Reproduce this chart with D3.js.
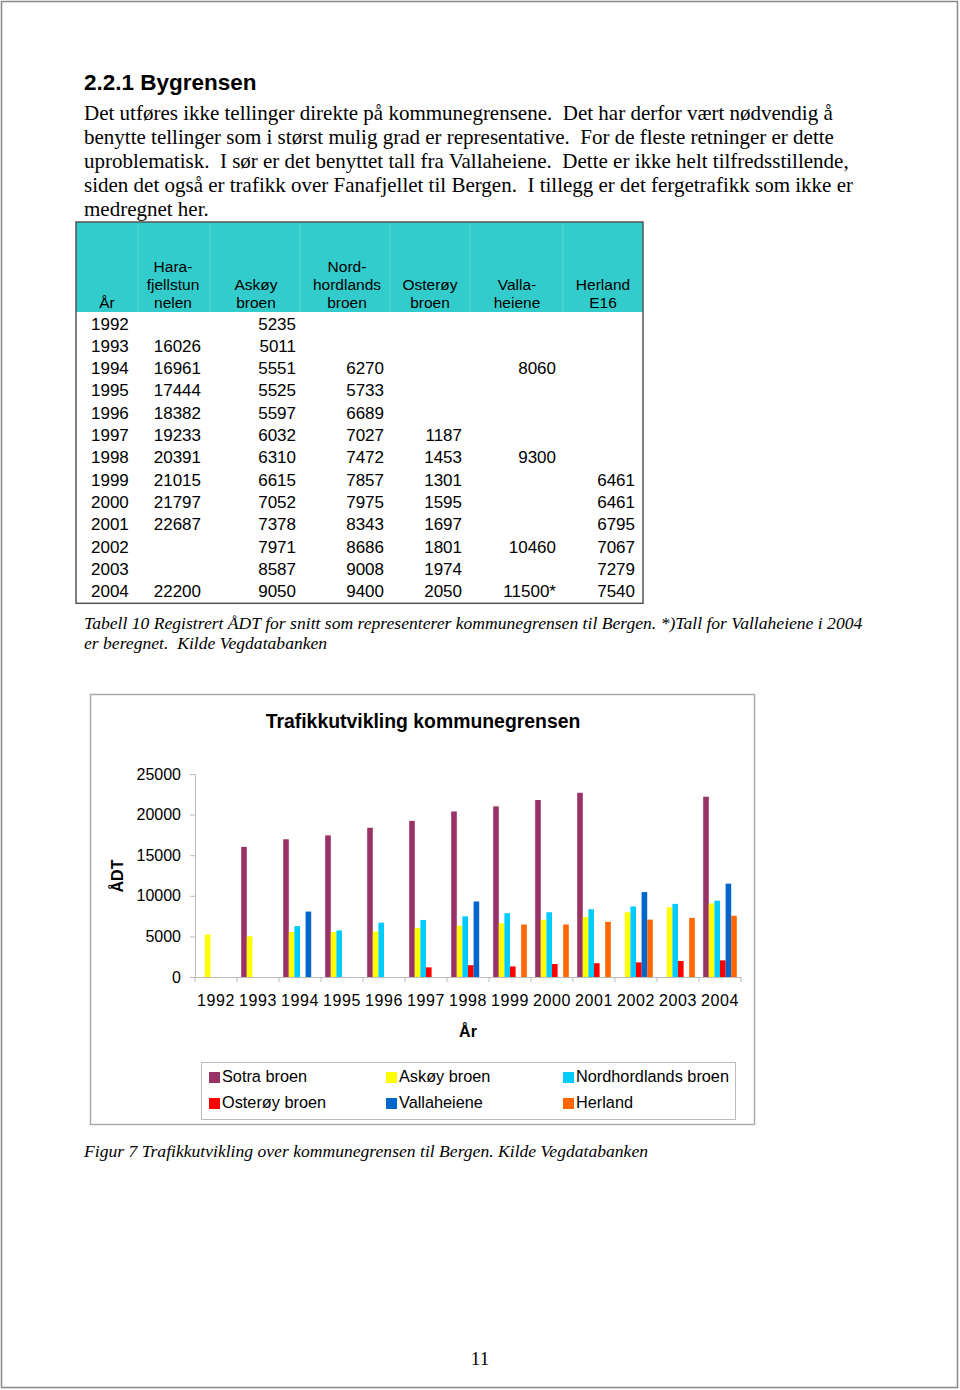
<!DOCTYPE html>
<html><head><meta charset="utf-8">
<script src="https://cdn.jsdelivr.net/npm/d3@7"></script>
<style>body{margin:0;background:#fff}svg{display:block}</style>
</head><body>
<script>
const years = [1992,1993,1994,1995,1996,1997,1998,1999,2000,2001,2002,2003,2004];
const sotra        = [null,16026,16961,17444,18382,19233,20391,21015,21797,22687,null,null,22200];
const askoy        = [5235,5011,5551,5525,5597,6032,6310,6615,7052,7378,7971,8587,9050];
const nordhordland = [null,null,6270,5733,6689,7027,7472,7857,7975,8343,8686,9008,9400];
const osteroy      = [null,null,null,null,null,1187,1453,1301,1595,1697,1801,1974,2050];
const vallaheiene  = [null,null,8060,null,null,null,9300,null,null,null,10460,null,11500];
const herland      = [null,null,null,null,null,null,null,6461,6461,6795,7067,7279,7540];
const seriesNames  = ["Sotra broen","Askøy broen","Nordhordlands broen","Osterøy broen","Vallaheiene","Herland"];
const seriesColors = ["#993366","#FFFF00","#00CCFF","#FF0000","#0066CC","#FF6600"];
const yTicks = [0,5000,10000,15000,20000,25000];
const tableHeaders = [["År"],["Hara-","fjellstun","nelen"],["Askøy","broen"],["Nord-","hordlands","broen"],["Osterøy","broen"],["Valla-","heiene"],["Herland","E16"]];
const paragraph = [
 "Det utføres ikke tellinger direkte på kommunegrensene.  Det har derfor vært nødvendig å",
 "benytte tellinger som i størst mulig grad er representative.  For de fleste retninger er dette",
 "uproblematisk.  I sør er det benyttet tall fra Vallaheiene.  Dette er ikke helt tilfredsstillende,",
 "siden det også er trafikk over Fanafjellet til Bergen.  I tillegg er det fergetrafikk som ikke er",
 "medregnet her."];

const series = [sotra,askoy,nordhordland,osteroy,vallaheiene,herland];

const svg = d3.select("body").append("svg").attr("width",960).attr("height",1390);
svg.append("rect").attr("x",1.5).attr("y",1.5).attr("width",956).attr("height",1386)
  .attr("fill","#fff").attr("stroke","#888").attr("stroke-width",1.5);

const serif = "'Liberation Serif','Times New Roman',serif";
const sans = "'Liberation Sans',Arial,sans-serif";

svg.append("text").attr("x",84).attr("y",90).attr("font-family",sans).attr("font-weight","bold")
  .attr("font-size",22.5).text("2.2.1 Bygrensen");
paragraph.forEach((l,i)=>{
  svg.append("text").attr("x",84).attr("y",120+i*24).attr("font-family",serif).attr("font-size",21)
    .attr("xml:space","preserve").style("white-space","pre").text(l);
});

// ---- Table
const colEdges = [76,138,210,300,390,470,563,643];
const tTop = 222, hBottom = 312, rowH = 22.33;
const tBottom = hBottom + rowH*years.length + 1;
svg.append("rect").attr("x",colEdges[0]).attr("y",tTop).attr("width",colEdges[7]-colEdges[0]).attr("height",hBottom-tTop)
  .attr("fill","#33CCCC");
for (let i=1;i<7;i++){
  svg.append("line").attr("x1",colEdges[i]).attr("x2",colEdges[i]).attr("y1",tTop+2).attr("y2",hBottom)
    .attr("stroke","#5fd8d8").attr("stroke-width",1);
}
svg.append("rect").attr("x",colEdges[0]).attr("y",tTop).attr("width",colEdges[7]-colEdges[0]).attr("height",tBottom-tTop)
  .attr("fill","none").attr("stroke","#555").attr("stroke-width",1.5);
const headerCenters = [107,173,256,347,430,517,603];
tableHeaders.forEach((lines,c)=>{
  lines.forEach((t,k)=>{
    const y = 308 - (lines.length-1-k)*18;
    svg.append("text").attr("x",headerCenters[c]).attr("y",y).attr("text-anchor","middle")
      .attr("font-family",sans).attr("font-size",15.5).text(t);
  });
});
const rightEdges = [null,201,296,384,462,556,635];
years.forEach((yr,r)=>{
  const y = hBottom + rowH*r + 17.5;
  svg.append("text").attr("x",91).attr("y",y).attr("font-family",sans).attr("font-size",17).text(yr);
  series.forEach((s,c)=>{
    if (s[r]==null) return;
    let t = String(s[r]);
    if (c===4 && yr===2004) t += "*";
    svg.append("text").attr("x",rightEdges[c+1]).attr("y",y).attr("text-anchor","end")
      .attr("font-family",sans).attr("font-size",17).text(t);
  });
});
svg.append("text").attr("x",84).attr("y",629).attr("font-family",serif).attr("font-style","italic").attr("font-size",17.6)
  .text("Tabell 10 Registrert ÅDT for snitt som representerer kommunegrensen til Bergen. *)Tall for Vallaheiene i 2004");
svg.append("text").attr("x",84).attr("y",649).attr("font-family",serif).attr("font-style","italic").attr("font-size",17.6)
  .attr("xml:space","preserve").style("white-space","pre").text("er beregnet.  Kilde Vegdatabanken");

// ---- Chart
svg.append("rect").attr("x",90.5).attr("y",694.5).attr("width",664).attr("height",430)
  .attr("fill","#fff").attr("stroke","#aaa").attr("stroke-width",1.5);
svg.append("text").attr("x",423).attr("y",728).attr("text-anchor","middle").attr("font-family",sans)
  .attr("font-weight","bold").attr("font-size",19.4).text("Trafikkutvikling kommunegrensen");

const x0 = d3.scaleBand().domain(years).range([195,741]).paddingInner(0).paddingOuter(0);
const gap = 8.4;
const x1 = d3.scaleBand().domain(d3.range(6)).range([gap/2, x0.bandwidth()-gap/2]).padding(0);
const y = d3.scaleLinear().domain([0,25000]).range([977,774]);

const yAxis = d3.axisLeft(y).tickValues(yTicks).tickSize(5).tickPadding(9).tickFormat(d3.format("d"));
const gy = svg.append("g").attr("transform","translate(195,0)").call(yAxis);
gy.select(".domain").attr("stroke","#bbb");
gy.selectAll(".tick line").attr("stroke","#bbb");
gy.selectAll(".tick text").attr("font-family",sans).attr("font-size",16).attr("fill","#000");

years.forEach((yr,i)=>{
  series.forEach((s,k)=>{
    if (s[i]==null) return;
    svg.append("rect").attr("x",x0(yr)+x1(k)).attr("y",y(s[i])).attr("width",x1.bandwidth())
      .attr("height",y(0)-y(s[i])).attr("fill",seriesColors[k]);
  });
});

const xAxis = d3.axisBottom(x0).tickSize(0).tickPadding(18);
const gx = svg.append("g").attr("transform","translate(0,977)").call(xAxis);
gx.select(".domain").attr("stroke","#bbb");
gx.selectAll(".tick text").attr("font-family",sans).attr("font-size",16).attr("letter-spacing",0.6).attr("fill","#000");
years.concat([null]).forEach((yr,i)=>{
  const xx = yr==null ? 741 : x0(yr);
  svg.append("line").attr("x1",xx).attr("x2",xx).attr("y1",977).attr("y2",982).attr("stroke","#bbb");
});

svg.append("text").attr("transform","translate(123,876) rotate(-90)").attr("text-anchor","middle")
  .attr("font-family",sans).attr("font-weight","bold").attr("font-size",16).text("ÅDT");
svg.append("text").attr("x",468).attr("y",1037).attr("text-anchor","middle")
  .attr("font-family",sans).attr("font-weight","bold").attr("font-size",16).text("År");

// legend
svg.append("rect").attr("x",201.5).attr("y",1062.5).attr("width",534).attr("height",57)
  .attr("fill","#fff").attr("stroke","#bbb").attr("stroke-width",1);
const legX = [209,386,563], legY = [1077,1103];
seriesNames.forEach((n,k)=>{
  const lx = legX[k%3], ly = legY[Math.floor(k/3)];
  svg.append("rect").attr("x",lx).attr("y",ly-5).attr("width",11).attr("height",11).attr("fill",seriesColors[k]);
  svg.append("text").attr("x",lx+13).attr("y",ly+5).attr("font-family",sans).attr("font-size",16.3).text(n);
});

svg.append("text").attr("x",84).attr("y",1157).attr("font-family",serif).attr("font-style","italic").attr("font-size",17.6)
  .text("Figur 7 Trafikkutvikling over kommunegrensen til Bergen. Kilde Vegdatabanken");
svg.append("text").attr("x",480).attr("y",1365).attr("text-anchor","middle").attr("font-family",serif).attr("font-size",19)
  .text("11");
</script>
</body></html>
